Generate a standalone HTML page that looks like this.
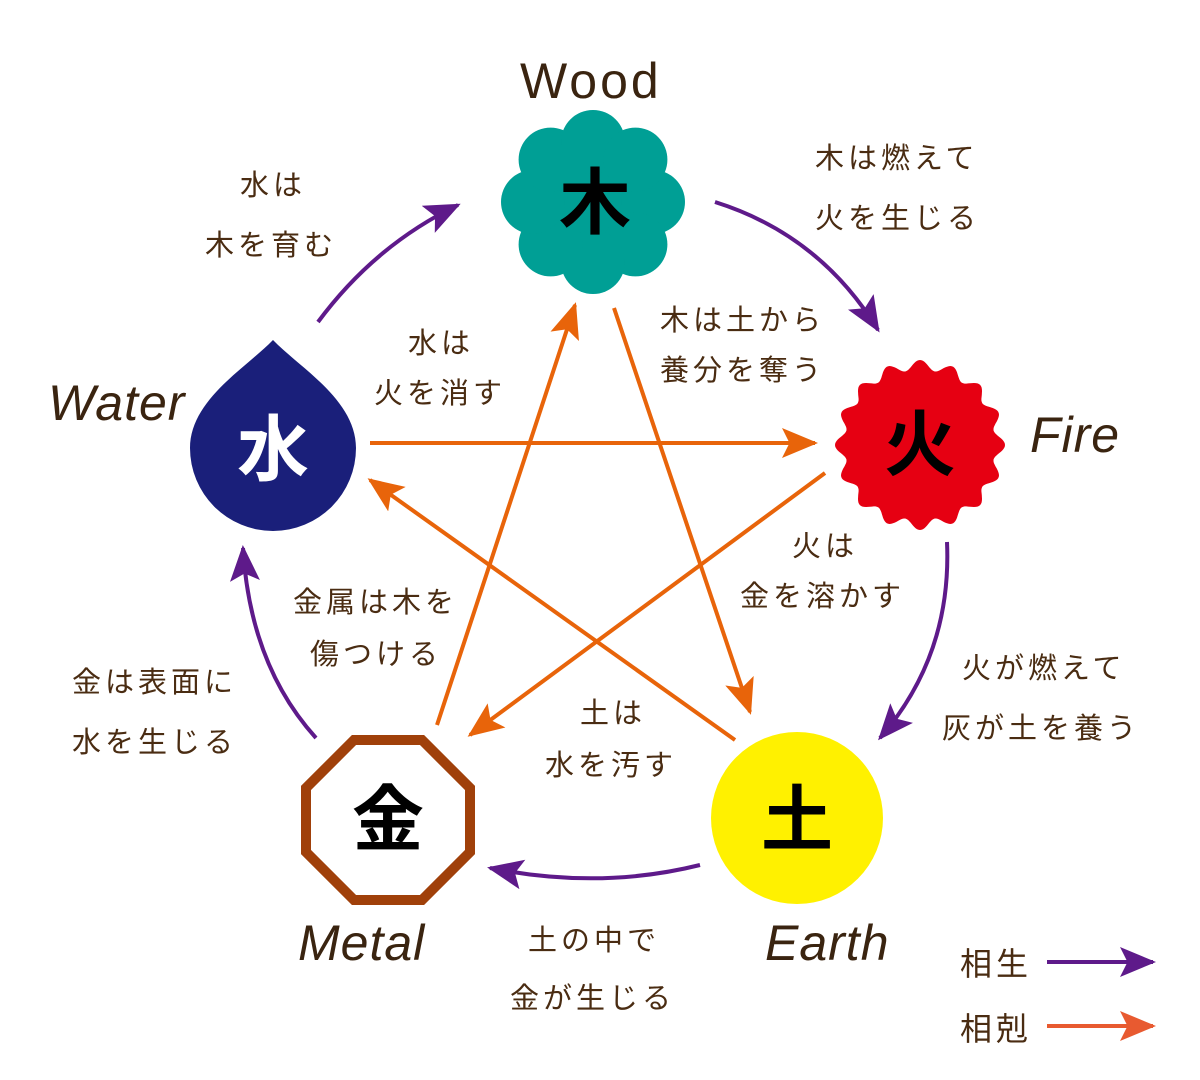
<!DOCTYPE html>
<html><head><meta charset="utf-8"><style>
html,body{margin:0;padding:0;background:#fff}
svg{display:block}
.jp{font-family:"Liberation Sans","Noto Sans CJK JP",sans-serif;fill:#4a2c12;font-size:29px;letter-spacing:4px}
.en{font-family:"Liberation Sans",sans-serif;fill:#3a2410;font-size:50px;font-style:italic;letter-spacing:1px}
.big{font-family:"Liberation Sans","Noto Sans CJK JP",sans-serif;font-size:72px;text-anchor:middle;font-weight:bold}
</style></head><body>
<svg width="1200" height="1080" viewBox="0 0 1200 1080" xmlns="http://www.w3.org/2000/svg">
<defs>
<marker id="p" viewBox="0 0 12 10" refX="11" refY="5" markerWidth="36" markerHeight="30" orient="auto" markerUnits="userSpaceOnUse"><path d="M0,0 L12,5 L0,10 L2.5,5 z" fill="#5e1a8a"/></marker>
<marker id="o" viewBox="0 0 12 10" refX="11" refY="5" markerWidth="36" markerHeight="30" orient="auto" markerUnits="userSpaceOnUse"><path d="M0,0 L12,5 L0,10 L2.5,5 z" fill="#e8640a"/></marker>
<marker id="o2" viewBox="0 0 12 10" refX="11" refY="5" markerWidth="36" markerHeight="30" orient="auto" markerUnits="userSpaceOnUse"><path d="M0,0 L12,5 L0,10 L2.5,5 z" fill="#e85a30"/></marker>
</defs>

<g fill="none" stroke="#5e1a8a" stroke-width="4">
<path d="M318,322 Q375,245 458,205" marker-end="url(#p)"/>
<path d="M715,202 Q820,235 878,330" marker-end="url(#p)"/>
<path d="M947,542 Q952,655 880,738" marker-end="url(#p)"/>
<path d="M700,865 Q600,890 490,868" marker-end="url(#p)"/>
<path d="M316,738 Q250,665 243,548" marker-end="url(#p)"/>
</g>
<g fill="none" stroke="#e8640a" stroke-width="4">
<path d="M370,443 L815,443" marker-end="url(#o)"/>
<path d="M614,308 L750,712" marker-end="url(#o)"/>
<path d="M825,473 L470,735" marker-end="url(#o)"/>
<path d="M735,740 L370,480" marker-end="url(#o)"/>
<path d="M437,725 L575,305" marker-end="url(#o)"/>
</g>

<g fill="#009f95">
<circle cx="593" cy="202" r="65"/>
<circle cx="653" cy="202" r="32"/><circle cx="635.4" cy="244.4" r="32"/>
<circle cx="593" cy="262" r="32"/><circle cx="550.6" cy="244.4" r="32"/>
<circle cx="533" cy="202" r="32"/><circle cx="550.6" cy="159.6" r="32"/>
<circle cx="593" cy="142" r="32"/><circle cx="635.4" cy="159.6" r="32"/>
</g>
<text class="big" x="595" y="228" fill="#000">木</text>

<path id="fire" fill="#e60012" d=""/>
<text class="big" x="920" y="470" fill="#000">火</text>

<path fill="#1a1f7a" d="M273,340 C300,368 356,400 356,448 A83,83 0 1 1 190,448 C190,400 246,368 273,340 Z"/>
<text class="big" x="273" y="475" fill="#fff">水</text>

<polygon fill="#fff" stroke="#a0400a" stroke-width="10" points="354,740 422,740 470,788 470,852 422,900 354,900 306,852 306,788"/>
<text class="big" x="388" y="845" fill="#000">金</text>

<circle cx="797" cy="818" r="86" fill="#fff100"/>
<text class="big" x="797" y="845" fill="#000">土</text>

<text class="en" x="520" y="98" style="font-style:normal;letter-spacing:3px">Wood</text>
<text class="en" x="1030" y="452">Fire</text>
<text class="en" x="48" y="420">Water</text>
<text class="en" x="298" y="960">Metal</text>
<text class="en" x="765" y="960">Earth</text>

<text class="jp" x="240" y="195">水は</text>
<text class="jp" x="205" y="255">木を育む</text>
<text class="jp" x="815" y="168">木は燃えて</text>
<text class="jp" x="815" y="228">火を生じる</text>
<text class="jp" x="660" y="330">木は土から</text>
<text class="jp" x="660" y="380">養分を奪う</text>
<text class="jp" x="408" y="353">水は</text>
<text class="jp" x="374" y="403">火を消す</text>
<text class="jp" x="792" y="556">火は</text>
<text class="jp" x="740" y="606">金を溶かす</text>
<text class="jp" x="962" y="678">火が燃えて</text>
<text class="jp" x="942" y="738">灰が土を養う</text>
<text class="jp" x="293" y="612">金属は木を</text>
<text class="jp" x="310" y="664">傷つける</text>
<text class="jp" x="72" y="692">金は表面に</text>
<text class="jp" x="72" y="752">水を生じる</text>
<text class="jp" x="580" y="723">土は</text>
<text class="jp" x="545" y="775">水を汚す</text>
<text class="jp" x="528" y="950">土の中で</text>
<text class="jp" x="510" y="1008">金が生じる</text>

<text class="jp" x="960" y="975" style="font-size:32px">相生</text>
<text class="jp" x="960" y="1040" style="font-size:32px">相剋</text>
<path d="M1047,962 L1153,962" stroke="#5e1a8a" stroke-width="4" marker-end="url(#p)"/>
<path d="M1047,1026 L1153,1026" stroke="#e85a30" stroke-width="4" marker-end="url(#o2)"/>
</svg>
<script>
(function(){var cx=920,cy=445,d="";for(var i=0;i<=360;i++){var t=i*Math.PI/180;var r=80+5*Math.cos(16*t);var x=cx+r*Math.sin(t),y=cy-r*Math.cos(t);d+=(i?"L":"M")+x.toFixed(1)+","+y.toFixed(1);}document.getElementById("fire").setAttribute("d",d+"Z");})();
</script>
</body></html>
